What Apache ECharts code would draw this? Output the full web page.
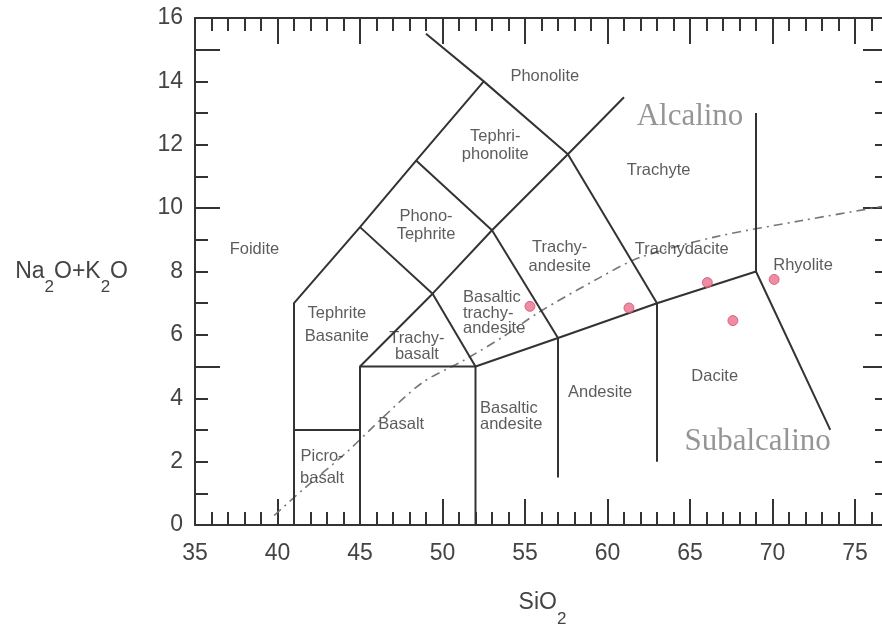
<!DOCTYPE html>
<html><head><meta charset="utf-8">
<script src="https://cdn.jsdelivr.net/npm/echarts@6/dist/echarts.min.js"></script>
<style>html,body{margin:0;padding:0;background:#fff}#c{width:882px;height:629px}</style>
</head><body><div id="c"></div>
<script>
// ---- tick labels ----
const xTickLabels = [35, 40, 45, 50, 55, 60, 65, 70, 75];
const yTickLabels = [0, 2, 4, 6, 8, 10, 12, 14, 16];

// ---- TAS field boundaries (SiO2, Na2O+K2O) ----
const lineA = [[41,0],[41,7],[45,9.4],[48.4,11.5],[52.5,14],[57.6,11.7],[63,7],[63,2]];
const lineB = [[49,15.5],[52.5,14]];
const lineC = [[41,3],[45,3]];
const lineD = [[45,0],[45,5],[52,5],[52,0]];
const lineE = [[45,5],[49.4,7.3],[53,9.3],[57.6,11.7],[61,13.5]];
const lineF = [[45,9.4],[49.4,7.3],[52,5],[57,5.9],[63,7],[69,8],[73.5,3]];
const lineG = [[48.4,11.5],[53,9.3],[57,5.9],[57,1.5]];
const lineH = [[69,8],[69,13]];

// ---- alkaline / subalkaline divide ----
const divideSiO2 = [39.8, 41.5, 44.2, 46.4, 48.8, 51.3, 53.7, 55.8, 59.5, 62, 66.6, 71.7, 76.6, 77];
const divideAlk  = [0.3, 1.1, 2.3, 3.4, 4.5, 5.2, 5.95, 6.7, 7.8, 8.45, 9.1, 9.6, 10.05, 10.1];

// ---- samples ----
const sampleSiO2 = [55.3, 61.3, 66.05, 67.6, 70.1];
const sampleAlk  = [6.9, 6.85, 7.65, 6.45, 7.75];

// ---- field names ----
const regionNames = ['Phonolite','Tephri-\nphonolite','Phono-\nTephrite','Foidite','Trachyte',
  'Trachy-\nandesite','Trachydacite','Rhyolite','Tephrite\nBasanite','Trachy-\nbasalt',
  'Basaltic\ntrachy-\nandesite','Basalt','Picro-\nbasalt','Basaltic\nandesite','Andesite','Dacite'];
const regionX = [56.2, 53.2, 49.0, 38.6, 63.1, 57.1, 64.5, 71.85, 43.6, 48.45, 51.24, 47.5, 42.7, 52.27, 59.55, 66.5];
const regionY = [14.17, 11.97, 9.44, 8.68, 11.2, 8.46, 8.68, 8.2, 6.3, 5.65, 6.69, 3.16, 1.83, 3.44, 4.18, 4.68];
const regionLH = [18, 18, 18, 18, 18, 19, 18, 18, 23, 16, 15.5, 18, 22, 16, 18, 18];
const regionAlign = ['center','center','center','center','center','center','center','center','center','center','left','center','center','left','center','center'];

const seriesNames = ['Alcalino', 'Subalcalino'];
const seriesNameX = [65.0, 69.1];
const seriesNameY = [12.89, 2.63];

const SANS = "'Liberation Sans', Arial, sans-serif";
const SERIF = "'Liberation Serif', 'Times New Roman', serif";
const INK = '#333';
const TXT = '#444';

const chart = echarts.init(document.getElementById('c'), null, {renderer: 'canvas'});

const boundaryLines = [lineA, lineB, lineC, lineD, lineE, lineF, lineG, lineH];
const lineSeries = boundaryLines.map(pts => ({
  type: 'line', data: pts, symbol: 'none', silent: true, z: 3,
  lineStyle: {color: INK, width: 2}
}));

const tickStyle = {color: INK, width: 2};

function yAxisDef(pos, interval, tickLen, withLabels, withLine) {
  return {
    type: 'value', position: pos, min: 0, max: 16, interval: interval,
    offset: pos === 'right' ? -49.5 : 0,
    splitLine: {show: false},
    axisLine: {show: withLine, lineStyle: {color: INK, width: 2}},
    axisTick: {show: true, inside: true, length: tickLen, lineStyle: tickStyle},
    axisLabel: withLabels ? {
      show: true, fontSize: 23, color: TXT, fontFamily: SANS, margin: 12,
      formatter: v => yTickLabels.includes(v) ? String(v) : ''
    } : {show: false}
  };
}

const yAxes = [
  yAxisDef('left', 1, 13, true, true),
  yAxisDef('left', 5, 25, false, false),
  yAxisDef('right', 1, 13, false, false),
  yAxisDef('right', 5, 25, false, false)
];
yAxes[0].name = '{b|Na}{s|2}{b|O+K}{s|2}{b|O}';
yAxes[0].nameLocation = 'middle';
yAxes[0].nameRotate = 0;
yAxes[0].nameGap = 67;
yAxes[0].nameTextStyle = {
  rich: {
    b: {fontSize: 23, color: TXT, fontFamily: SANS, verticalAlign: 'middle'},
    s: {fontSize: 17, color: TXT, fontFamily: SANS, verticalAlign: 'middle', padding: [32, 0, 0, 0]}
  }
};

function xAxisDef(pos, withLabels) {
  const ax = {
    type: 'value', position: pos, min: 35, max: 80, interval: 5,
    splitLine: {show: false},
    axisLine: {show: true, onZero: false, lineStyle: {color: INK, width: 2}},
    axisTick: {show: true, inside: true, length: 26, lineStyle: tickStyle},
    minorTick: {show: true, splitNumber: 5, length: 13, lineStyle: tickStyle},
    axisLabel: withLabels ? {
      show: true, fontSize: 23, color: TXT, fontFamily: SANS, margin: 17,
      formatter: v => xTickLabels.includes(v) ? String(v) : ''
    } : {show: false}
  };
  return ax;
}
const xAxes = [xAxisDef('bottom', true), xAxisDef('top', false)];
xAxes[0].name = '{b|SiO}{s|2}';
xAxes[0].nameLocation = 'middle';
xAxes[0].nameGap = 53.5;
xAxes[0].nameTextStyle = {
  padding: [0, 47.5, 0, 0],
  rich: {
    b: {fontSize: 23, color: TXT, fontFamily: SANS, verticalAlign: 'middle'},
    s: {fontSize: 17, color: TXT, fontFamily: SANS, verticalAlign: 'middle', padding: [32, 0, 0, 0]}
  }
};

const regionData = regionNames.map((n, i) => ({
  value: [regionX[i], regionY[i]], name: n,
  label: {lineHeight: regionLH[i], align: regionAlign[i]}
}));

const option = {
  animation: false,
  backgroundColor: '#fff',
  grid: {left: 195, top: 18, width: 742.5, height: 507, containLabel: false, outerBoundsMode: 'none'},
  xAxis: xAxes,
  yAxis: yAxes,
  series: [
    ...lineSeries,
    {
      type: 'line', data: divideSiO2.map((x, i) => [x, divideAlk[i]]),
      symbol: 'none', smooth: 0.3, silent: true, z: 2,
      lineStyle: {color: '#777', width: 1.6, type: [9, 5, 2, 5]}
    },
    {
      type: 'scatter', data: sampleSiO2.map((x, i) => [x, sampleAlk[i]]),
      symbol: 'circle', symbolSize: 10, z: 5,
      itemStyle: {color: '#e8708c', borderColor: '#d4506f', borderWidth: 1}
    },
    {
      type: 'scatter', data: regionData, symbolSize: 0, silent: true, z: 4,
      label: {show: true, position: 'inside', formatter: p => p.name,
        fontSize: 16.5, color: INK, fontFamily: SANS}
    },
    {
      type: 'scatter', data: seriesNames.map((n, i) => ({value: [seriesNameX[i], seriesNameY[i]], name: n})),
      symbolSize: 0, silent: true, z: 4,
      label: {show: true, position: 'inside', formatter: p => p.name,
        fontSize: 31, color: '#7a7a7a', fontFamily: SERIF}
    }
  ]
};
chart.setOption(option);
</script>
</body></html>
